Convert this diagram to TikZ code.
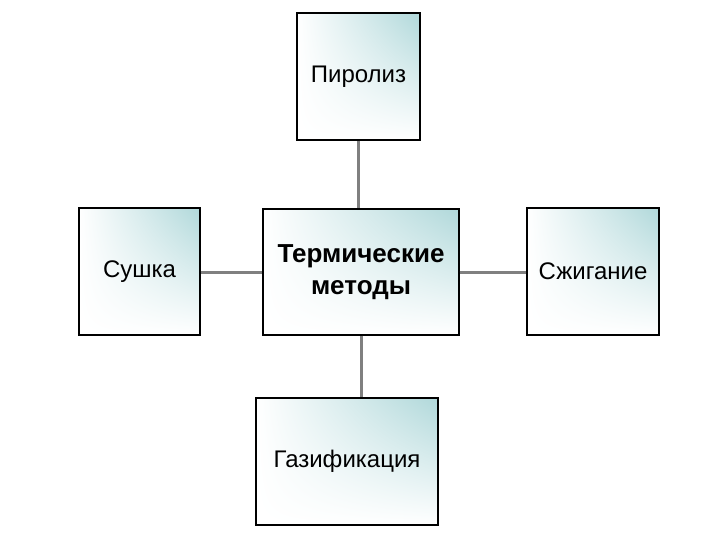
\documentclass[tikz,border=0pt]{standalone}
\usepackage{fontspec}
\setmainfont{Liberation Sans}
\usetikzlibrary{calc,shadings}
\definecolor{boxteal}{RGB}{176,216,218}
\definecolor{linkgray}{RGB}{128,128,128}
\tikzset{
	methodbox/.style={draw=black,line width=1.3pt,inner sep=0pt,align=center,
		upper left=white,upper right=boxteal,lower left=white,lower right=white,
		font=\fontsize{24}{32}\selectfont},
	link/.style={draw=linkgray,line width=3pt}
}
\begin{document}
\begin{tikzpicture}[x=1pt,y=-1pt]
			%%%%% START %%%%%
			\def\boxh{127}
			\def\ymid{271.5}
			\useasboundingbox (0,0) rectangle (720,540);

			\node[methodbox,minimum width=196pt,minimum height=126pt,font=\fontsize{26}{32}\selectfont\bfseries] (center) at (361,272) {Термические\\методы};
			\node[methodbox,minimum width=123pt,minimum height=\boxh pt] (pyro) at (358.5,76.5) {Пиролиз};
			\node[methodbox,minimum width=121pt,minimum height=\boxh pt] (dry) at (139.5,\ymid) {Сушка};
			\node[methodbox,minimum width=132pt,minimum height=\boxh pt] (burn) at (593,\ymid) {Сжигание};
			\node[methodbox,minimum width=182pt,minimum height=\boxh pt] (gas) at (347,461.5) {Газификация};

			\draw[link] (pyro.south) -- (pyro.south |- center.north);
			\draw[link] (dry.east |- center.west) -- (center.west);
			\draw[link] (center.east) -- (center.east -| burn.west);
			\draw[link] (center.south) -- (center.south |- gas.north);
			%%%%% END %%%%%
\end{tikzpicture}
\end{document}
